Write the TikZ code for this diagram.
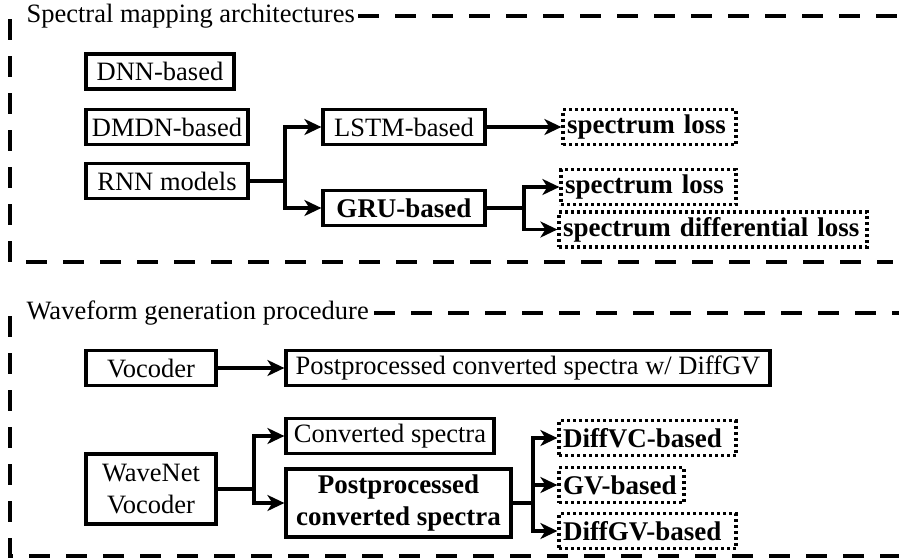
\documentclass[tikz,border=0pt]{standalone}
\usepackage{fontspec}
\setmainfont{Liberation Serif}
\usetikzlibrary{arrows.meta, positioning}

\begin{document}
\begin{tikzpicture}[x=1pt, y=-1pt, line width=3.2pt, >={Stealth[length=17pt,width=16pt,inset=5pt]},
	font=\fontsize{26.5}{32}\selectfont,
	box/.style={draw, inner sep=3pt, minimum height=35pt, align=center},
	lossbox/.style={draw, dash pattern=on 3pt off 3pt, inner xsep=4pt, inner ysep=3pt,
		minimum height=35pt, text width=#1, align=left, font=\fontsize{27}{32}\selectfont\bfseries},
	frame/.style={dash pattern=on 21pt off 16pt},
	title/.style={inner sep=2pt, anchor=west}]
	\useasboundingbox (0,0) rectangle (899,558);

	% spectral mapping part
	\node[title] (t1) at (23,16) {Spectral mapping architectures};
	\draw[frame, dash phase=37pt] (t1.east) -- (905,16);
	\draw[frame, dash phase=32pt] (10,14) -- (10,262) -- (893,262);

	\node[box, minimum width=148pt] (dnn)  at (160,71.5) {DNN-based};
	\node[box, minimum width=162pt] (dmdn) at (167,127)  {DMDN-based};
	\node[box, minimum width=162pt] (rnn)  at (167,181)  {RNN models};
	\node[box, minimum width=162pt] (lstm) at (404,127)  {LSTM-based};
	\node[box, minimum width=162pt, font=\fontsize{27}{32}\selectfont\bfseries] (gru) at (404,208) {GRU-based};

	\node[lossbox=165pt] (sl1) at (649.5,127)  {spectrum loss};
	\node[lossbox=167pt] (sl2) at (648.5,187)  {spectrum loss};
	\node[lossbox=300pt] (sdl) at (713,229.5)  {spectrum differential loss};

	\coordinate (b1) at (285,181);
	\coordinate (b2) at (524,208);
	\draw[->] (rnn.east) -- (b1) |- (lstm.west);
	\draw[->] (b1) |- (gru.west);
	\draw[->] (lstm.east) -- (sl1.west);
	\draw[->] (gru.east) -- (b2) |- (sl2.west);
	\draw[->] (b2) |- (sdl.west);

	% waveform generation part
	\node[title] (t2) at (23,313) {Waveform generation procedure};
	\draw[frame, dash phase=35pt] (t2.east) -- (905,313);
	\draw[frame, dash phase=32pt] (10,311) -- (10,556) -- (905,556);

	\node[box, minimum width=130pt] (voc) at (151,368) {Vocoder};
	\node[box, minimum width=484pt] (pp1) at (528,368) {Postprocessed converted spectra w/ DiffGV};
	\node[box, minimum width=130pt, minimum height=70pt] (wn) at (151,489) {WaveNet\\Vocoder};
	\node[box, minimum width=208pt] (cs) at (390,436) {Converted spectra};
	\node[box, minimum width=225pt, minimum height=68pt, font=\fontsize{27}{32}\selectfont\bfseries] (pp2) at (398.5,503) {Postprocessed\\converted spectra};

	\node[lossbox=169pt] (dvc) at (647.5,438)   {DiffVC-based};
	\node[lossbox=117pt] (gv)  at (621.5,485) {GV-based};
	\node[lossbox=169pt] (dgv) at (647.5,531) {DiffGV-based};

	\coordinate (b3) at (254,489);
	\coordinate (b4) at (533,503);
	\draw[->] (voc.east) -- (pp1.west);
	\draw[->] (wn.east) -- (b3) |- (cs.west);
	\draw[->] (b3) |- (pp2.west);
	\draw[->] (pp2.east) -- (b4) |- (dvc.west);
	\draw[->] (b4) |- (gv.west);
	\draw[->] (b4) |- (dgv.west);
\end{tikzpicture}
\end{document}
